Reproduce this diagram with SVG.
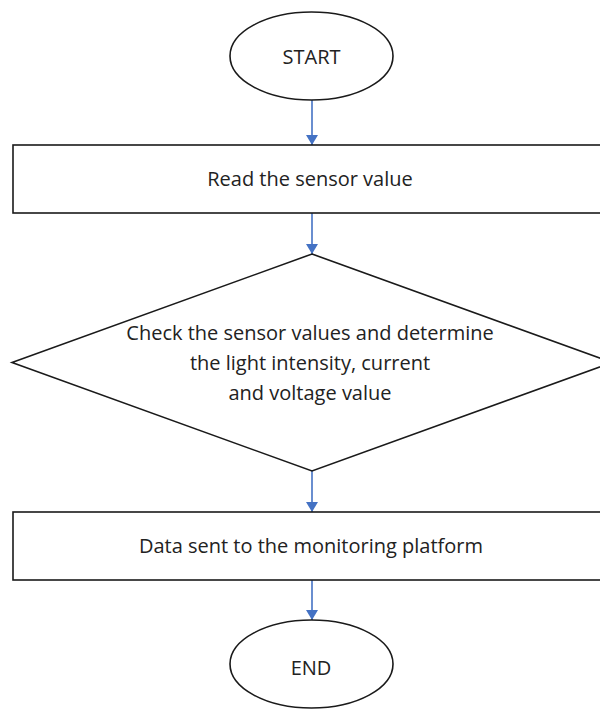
<svg xmlns="http://www.w3.org/2000/svg" width="600" height="709" viewBox="0 0 600 709">
  <defs>
    <style>
      .shape { fill: #ffffff; stroke: #1a1a1a; stroke-width: 1.6; }
      .label { font-family: "Open Sans", "Noto Sans", "Liberation Sans", sans-serif; font-size: 20px; fill: #222222; text-anchor: middle; }
      .conn { stroke: #4472C4; stroke-width: 1.6; fill: none; marker-end: url(#arrow); }
    </style>
    <marker id="arrow" viewBox="0 0 10 12" refX="10" refY="6" markerWidth="10" markerHeight="12" markerUnits="userSpaceOnUse" orient="auto">
      <path d="M0,0 L10,6 L0,12 Z" fill="#4472C4"/>
    </marker>
  </defs>
  <rect x="0" y="0" width="600" height="709" fill="#ffffff"/>
  <g id="connectors">
    <line class="conn" x1="312" y1="100" x2="312" y2="145"/>
    <line class="conn" x1="312" y1="213" x2="312" y2="254"/>
    <line class="conn" x1="312" y1="471" x2="312" y2="512"/>
    <line class="conn" x1="312" y1="580" x2="312" y2="620"/>
  </g>
  <g id="start">
    <ellipse class="shape" cx="311.5" cy="56" rx="81.5" ry="44"/>
    <text class="label" x="311.5" y="64">START</text>
  </g>
  <g id="read">
    <rect class="shape" x="13" y="145" width="598" height="68"/>
    <text class="label" x="310" y="186">Read the sensor value</text>
  </g>
  <g id="check">
    <polygon class="shape" points="312,254 612,362.5 312,471 12,362.5"/>
    <text class="label" x="310" y="340">Check the sensor values and determine</text>
    <text class="label" x="310" y="370">the light intensity, current</text>
    <text class="label" x="310" y="400">and voltage value</text>
  </g>
  <g id="send">
    <rect class="shape" x="13" y="512" width="598" height="68"/>
    <text class="label" x="311" y="553">Data sent to the monitoring platform</text>
  </g>
  <g id="end">
    <ellipse class="shape" cx="311.5" cy="664" rx="81.5" ry="44"/>
    <text class="label" x="311" y="675">END</text>
  </g>
</svg>
